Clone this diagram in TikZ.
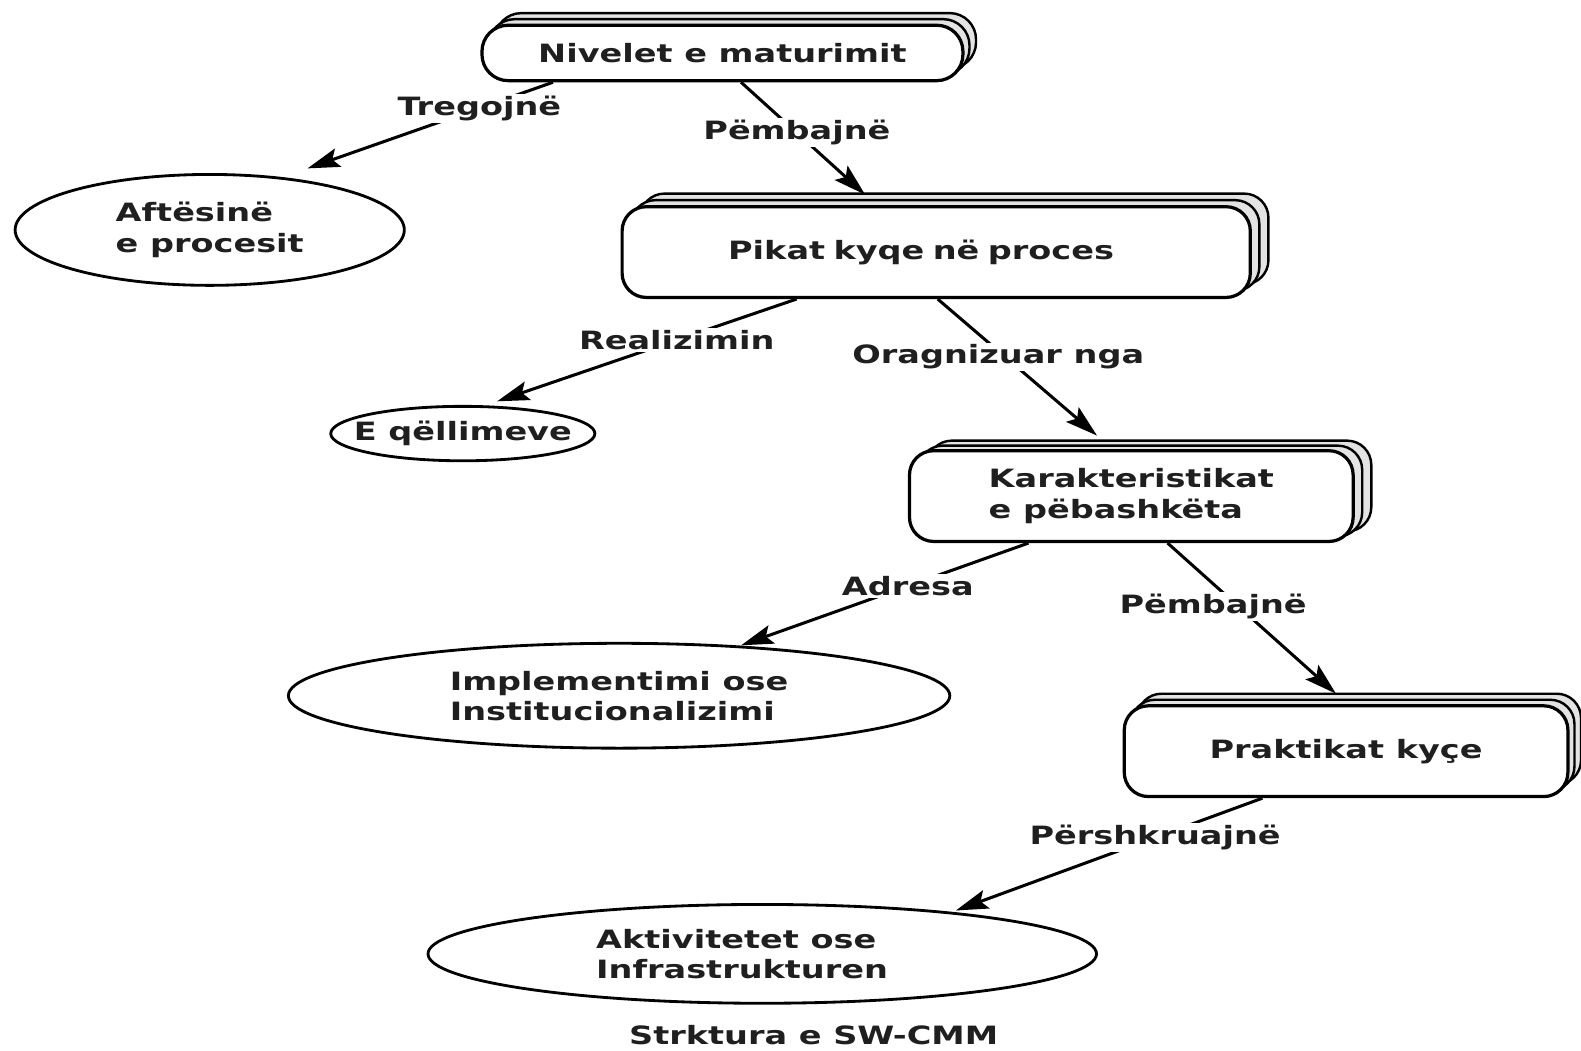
\documentclass[tikz,border=0pt]{standalone}
\usepackage{fontspec}
\newfontfamily\dfont{DejaVu Sans Bold}[FakeStretch=1.33]
\usetikzlibrary{arrows.meta,shapes.geometric,shadows}
\begin{document}
\begin{tikzpicture}[x=1pt,y=-1pt,
  every node/.style={font=\dfont\fontsize{25}{30}\selectfont, text=black!88},
  box/.style={draw=black, line width=3.2pt, rounded corners=24pt, fill=white, inner sep=0pt},
  stack/.style n args={2}{double copy shadow={shadow xshift=#1, shadow yshift=#2, fill=gray!22, draw=black, line width=2.4pt}},
  ell/.style={draw=black, ellipse, line width=2.8pt, fill=white, inner sep=0pt},
  lbl/.style={fill=white, inner sep=2pt},
  conn/.style={line width=3pt, -{Stealth[length=32pt,width=19pt,inset=6pt]}}
]
\fill[white] (0,0) rectangle (1568,1042);
\useasboundingbox (0,0) rectangle (1568,1042);

% boxes
\node[box, stack={6.5pt}{6pt}, minimum width=477pt, minimum height=55pt, rounded corners=26pt] (niv) at (716.5,52.5) {Nivelet e maturimit};
\node[box, stack={9pt}{6.5pt}, minimum width=623pt, minimum height=90pt, text width=600pt, align=center] (pik) at (928.5,250) {\hspace*{-30pt}Pikat kyqe në proces};
\node[box, stack={9pt}{5pt}, minimum width=440pt, minimum height=90pt, align=left] (kar) at (1122,492) {Karakteristikat\\e pëbashkëta};
\node[box, stack={6.5pt}{6pt}, minimum width=440pt, minimum height=90pt] (pra) at (1335,745) {Praktikat kyçe};

% ellipses
\node[ell, minimum width=386pt, minimum height=110pt] (aft) at (208,228) {};
\node[align=left] (aftT) at (aft) {Aftësinë\\e procesit};
\node[ell, minimum width=262pt, minimum height=54pt] (eq) at (459,430) {};
\node (eqT) at (eq) {E qëllimeve};
\node[ell, minimum width=656pt, minimum height=104pt] (imp) at (614,690) {};
\node[align=left] (impT) at (imp) {Implementimi ose\\Institucionalizimi};
\node[ell, minimum width=663pt, minimum height=98pt] (akt) at (756,946) {};
\node[align=left, xshift=-20pt] (aktT) at (akt) {Aktivitetet ose\\Infrastrukturen};

\node (cap) at (807,1027) {Strktura e SW-CMM};

% connectors
\draw[conn] ([xshift=72pt]niv.south west) -- node[lbl,pos=0.3] {Tregojnë} ([shift={(97,-61)}]aft.center);
\draw[conn] ([xshift=18.5pt]niv.south) -- node[lbl,pos=0.45] {Pëmbajnë} ([shift={(-70.5,-57)}]pik.center);
\draw[conn] ([xshift=-138.5pt]pik.south) -- node[lbl,pos=0.4] {Realizimin} ([shift={(34,-32)}]eq.center);
\draw[conn] ([xshift=1.5pt]pik.south) -- node[lbl,pos=0.38,yshift=-6pt] {Oragnizuar nga} ([shift={(-34,-60)}]kar.center);
\draw[conn] ([xshift=-102pt]kar.south) -- node[lbl,pos=0.42] {Adresa} ([shift={(121,-50)}]imp.center);
\draw[conn] ([xshift=36pt]kar.south) -- node[lbl,pos=0.42,xshift=-25pt] {Pëmbajnë} ([shift={(-10,-57)}]pra.center);
\draw[conn] ([xshift=-83pt]pra.south) -- node[lbl,pos=0.35] {Përshkruajnë} ([shift={(192,-43)}]akt.center);
\end{tikzpicture}
\end{document}
